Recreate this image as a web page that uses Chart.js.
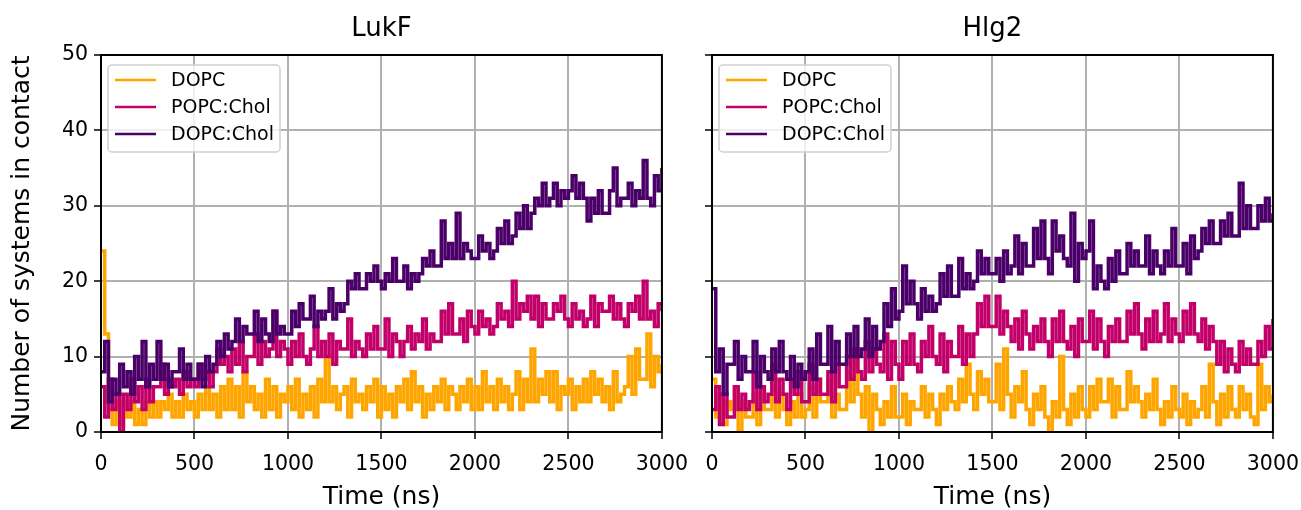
<!DOCTYPE html>
<html lang="en">
<head>
  <meta charset="UTF-8">
  <title>Systems in contact</title>
  <script src="https://cdn.jsdelivr.net/npm/chart.js"></script>
  <style>
    html, body { margin: 0; background: #fff; overflow: hidden; }
    #wrap { position: relative; width: 1301px; height: 510px; overflow: hidden; }
    canvas { position: absolute; top: 0; }
    #lukfChart { left: 0; }
    #hlg2Chart { left: 690px; }
  </style>
</head>
<body>
  <div id="wrap">
    <canvas id="lukfChart" width="701" height="510"></canvas>
    <canvas id="hlg2Chart" width="622" height="510"></canvas>
  </div>

  <script>
    // series names and colours
    const seriesNames = ['DOPC', 'POPC:Chol', 'DOPC:Chol'];
    const seriesColors = ['#ffa500', '#c2006a', '#4a0068'];
    const xTicks = [0, 500, 1000, 1500, 2000, 2500, 3000];
    const sampleStep = 20; // ns between samples

    // LukF (one value every 20 ns, 5 per 100 ns)
    const lukfDOPC = [24,13,3,1,4, 1,4,2,4,1, 3,1,4,2,4, 2,4,3,5,2, 4,2,5,3,4, 2,5,3,6,3,
      5,2,6,3,7, 3,6,2,8,4, 6,3,5,2,7, 3,6,2,5,4, 6,3,7,2,5, 3,6,2,7,4,
      10,4,6,3,5, 6,2,7,4,5, 3,6,4,7,2, 6,3,5,2,6, 4,7,3,8,4, 6,2,5,3,6,
      4,7,3,6,5, 3,6,4,7,3, 6,3,8,4,6, 3,7,4,6,3, 5,8,3,7,4, 11,4,7,5,8,
      4,8,3,6,5, 7,3,6,4,7, 4,8,5,7,4, 6,3,8,4,5, 6,10,5,11,7, 7,13,6,10,8, 9];
    const lukfPOPCChol = [6,2,7,3,5, 0,5,3,7,4, 6,3,7,4,6, 6,9,5,7,6, 7,5,8,6,7, 6,9,7,8,6,
      8,11,9,10,8, 11,9,12,8,10, 10,13,9,12,10, 11,16,10,12,11, 9,12,10,13,10, 9,11,14,10,12,
      10,13,9,12,11, 11,15,10,12,11, 10,13,11,14,11, 11,15,10,13,12, 10,12,14,11,13, 12,15,11,13,12,
      12,16,13,17,13, 13,15,12,16,14, 13,16,14,15,13, 14,17,15,16,14, 20,15,17,16,18, 15,18,14,17,15,
      15,17,16,18,15, 14,17,15,16,14, 15,18,14,17,16, 16,18,15,17,15, 14,17,16,18,15, 20,15,16,14,17, 16];
    const lukfDOPCChol = [8,12,4,7,5, 9,6,8,5,10, 7,12,6,9,7, 12,7,9,6,8, 8,11,7,9,7, 7,9,6,10,8,
      9,12,10,13,11, 12,15,12,14,13, 13,16,12,15,13, 12,16,13,14,13, 13,16,14,17,15, 15,18,14,16,15,
      16,19,15,17,16, 17,20,19,21,19, 19,21,20,22,20, 19,21,20,23,20, 20,22,19,21,20, 21,23,22,24,22,
      22,28,23,25,23, 29,23,25,24,23, 23,26,24,25,23, 24,27,25,28,25, 26,29,27,30,27, 29,31,30,33,30,
      31,33,30,32,31, 32,34,31,33,31, 28,31,29,32,29, 29,32,35,30,31, 31,33,30,32,31, 36,31,30,34,32, 35];

    // Hlg2
    const hlg2DOPC = [7,2,5,1,4, 3,6,0,4,2, 2,5,1,6,3, 3,9,2,5,3, 1,4,2,5,2, 3,6,2,7,4,
      4,7,2,5,3, 3,8,4,10,5, 2,6,0,5,3, 1,4,2,6,2, 2,5,1,4,3, 3,6,2,5,3,
      1,5,3,6,4, 3,7,4,9,5, 3,8,5,7,4, 4,9,3,11,5, 2,6,4,8,3, 1,5,3,6,2,
      0,4,2,10,3, 1,5,2,6,3, 2,6,3,7,4, 4,7,2,6,3, 3,8,4,6,4, 2,5,3,7,3,
      1,4,2,6,3, 2,5,1,4,2, 3,6,2,9,4, 1,5,2,6,3, 2,6,3,5,2, 1,9,3,6,4, 5];
    const hlg2POPCChol = [3,6,1,5,2, 2,6,3,5,3, 4,8,3,6,4, 5,9,4,7,5, 3,7,5,8,4, 4,9,5,7,5,
      5,8,4,9,6, 6,10,7,11,8, 7,12,8,11,9, 8,13,7,12,9, 7,12,9,13,9, 8,12,10,14,10,
      9,13,8,12,10, 10,14,9,13,10, 13,17,14,18,14, 14,18,13,16,14, 12,15,11,16,13, 11,14,12,15,12,
      10,15,12,16,12, 11,14,10,15,12, 12,16,11,15,12, 10,14,12,15,12, 12,16,13,17,13, 11,15,12,16,12,
      13,17,12,15,13, 12,16,13,17,13, 12,15,11,14,12, 9,12,8,11,9, 8,12,9,11,9, 9,12,10,14,11, 15];
    const hlg2DOPCChol = [19,8,11,5,9, 9,12,7,10,8, 8,12,6,10,8, 7,11,8,12,8, 7,10,6,9,7, 8,11,7,13,9,
      9,14,8,12,9, 9,13,10,14,10, 11,15,10,14,11, 12,17,14,19,15, 16,22,17,20,17, 15,19,16,18,16,
      17,21,18,22,18, 18,23,19,21,19, 20,24,21,23,21, 21,23,20,24,21, 22,26,21,25,22, 22,27,23,28,23,
      21,28,24,26,23, 22,29,20,25,23, 24,28,19,22,20, 19,23,20,24,21, 21,25,22,24,22, 22,26,21,24,22,
      21,24,22,27,22, 22,25,21,26,23, 24,27,25,28,25, 25,28,26,29,26, 26,33,27,30,27, 27,30,28,31,28, 29];

    const FONT = '"DejaVu Sans", sans-serif';

    // frame round the plot and the boxed legend, drawn over the lines
    const frameAndLegend = {
      id: 'frameAndLegend',
      afterDatasetsDraw(chart) {
        const { ctx, chartArea: a } = chart;
        ctx.save();
        ctx.strokeStyle = '#000';
        ctx.lineWidth = 2;
        ctx.strokeRect(a.left, a.top, a.right - a.left, a.bottom - a.top);

        const x = a.left + 7, y = a.top + 10, w = 172, h = 87;
        ctx.fillStyle = 'rgba(255,255,255,0.8)';
        ctx.strokeStyle = '#d0d0d0';
        ctx.lineWidth = 1.5;
        ctx.beginPath();
        ctx.roundRect(x, y, w, h, 4);
        ctx.fill();
        ctx.stroke();

        ctx.font = '19px ' + FONT;
        ctx.textBaseline = 'middle';
        seriesNames.forEach((name, i) => {
          const ly = y + 15 + i * 27;
          ctx.strokeStyle = seriesColors[i];
          ctx.lineWidth = 2.5;
          ctx.beginPath();
          ctx.moveTo(x + 7, ly);
          ctx.lineTo(x + 48, ly);
          ctx.stroke();
          ctx.fillStyle = '#000';
          ctx.fillText(name, x + 63, ly + 1);
        });
        ctx.restore();
      }
    };

    function toPoints(values) {
      return values.map((v, i) => ({ x: i * sampleStep, y: v }));
    }

    function makePanel(canvasId, title, values, showYLabels, yWidth, padRight) {
      const datasets = values.map((vals, i) => ({
        label: seriesNames[i],
        data: toPoints(vals),
        borderColor: seriesColors[i],
        borderWidth: 3.5,
        pointRadius: 0,
        stepped: true,
        fill: false,
        order: 3 - i
      }));

      const grid = { color: '#b0b0b0', lineWidth: 2, tickColor: '#000', tickLength: 7, tickWidth: 1.5 };

      return new Chart(document.getElementById(canvasId), {
        type: 'line',
        data: { datasets },
        options: {
          responsive: false,
          animation: false,
          devicePixelRatio: 1,
          layout: { padding: { left: 0, right: padRight, top: 0, bottom: 0 } },
          plugins: {
            legend: { display: false },
            tooltip: { enabled: false },
            title: {
              display: true,
              text: title,
              fullSize: false,
              color: '#000',
              font: { family: FONT, size: 26, weight: 'normal', lineHeight: 1.2 },
              padding: { top: 14, bottom: 9.8 }
            }
          },
          scales: {
            x: {
              type: 'linear',
              min: 0,
              max: 3000,
              afterBuildTicks: s => { s.ticks = xTicks.map(v => ({ value: v })); },
              ticks: {
                color: '#000',
                font: { family: FONT, size: 20.5 },
                padding: 13,
                maxRotation: 0,
                autoSkip: false,
                callback: v => String(v)
              },
              grid: grid,
              border: { display: false },
              title: {
                display: true,
                text: 'Time (ns)',
                color: '#000',
                font: { family: FONT, size: 25, lineHeight: 1 },
                padding: { top: 0, bottom: 0.5 }
              },
              afterFit: s => { s.height = 78; }
            },
            y: {
              min: 0,
              max: 50,
              ticks: { stepSize: 10, display: showYLabels, color: '#000', font: { family: FONT, size: 20.5 }, padding: 6 },
              grid: grid,
              border: { display: false },
              title: {
                display: showYLabels,
                text: 'Number of systems in contact',
                color: '#000',
                font: { family: FONT, size: 25, lineHeight: 1.2 },
                padding: { top: 7, bottom: 0 }
              },
              afterFit: s => { s.width = yWidth; }
            }
          }
        },
        plugins: [frameAndLegend]
      });
    }

    makePanel('lukfChart', 'LukF', [lukfDOPC, lukfPOPCChol, lukfDOPCChol], true, 101, 39);
    makePanel('hlg2Chart', 'Hlg2', [hlg2DOPC, hlg2POPCChol, hlg2DOPCChol], false, 22, 39);
  </script>
</body>
</html>
